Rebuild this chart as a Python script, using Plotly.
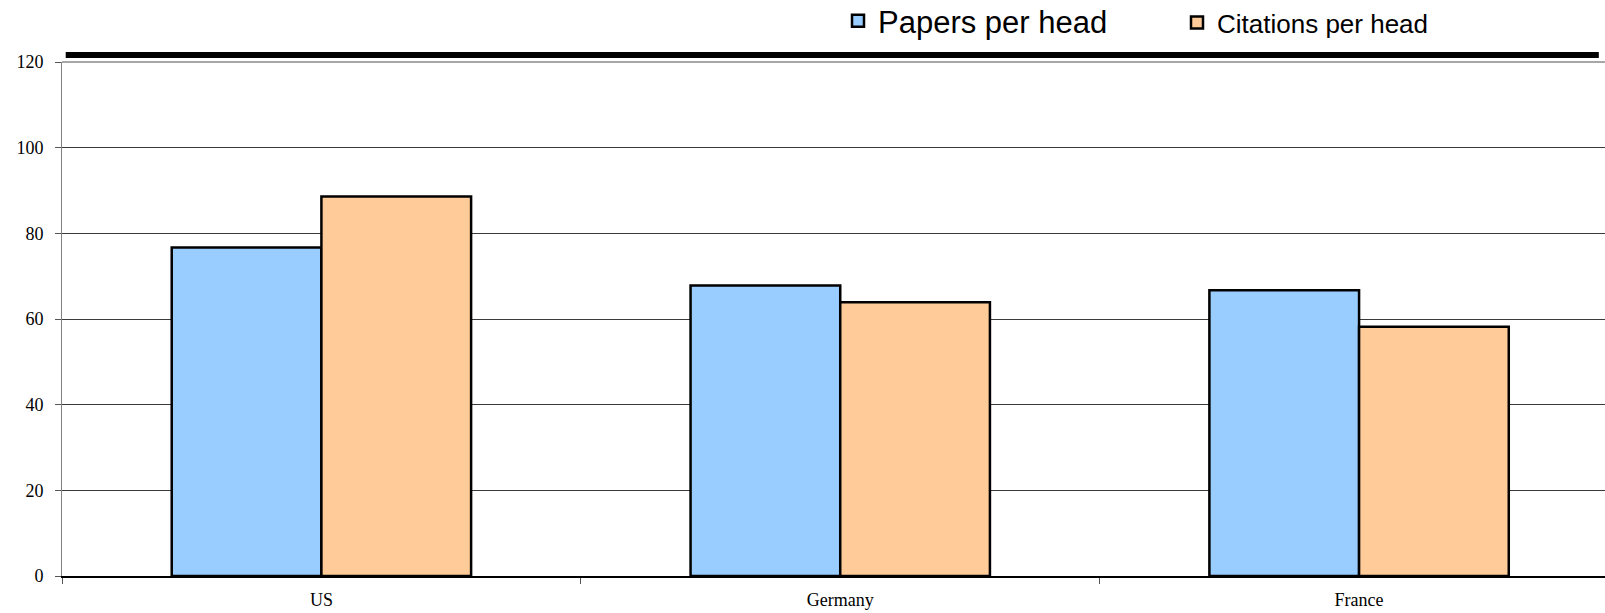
import plotly.graph_objects as go

# Per-head output by country
countries = ["US", "Germany", "France"]
papers_per_head = [76.7, 67.8, 66.7]
citations_per_head = [88.6, 63.9, 58.2]
y_ticks = [0, 20, 40, 60, 80, 100, 120]

W, H = 1605, 613
ML, MR, MT, MB = 62, 0, 62, 37
PLOT_H = H - MT - MB

fig = go.Figure()
fig.add_trace(go.Bar(
    x=countries, y=papers_per_head, name="Papers per head",
    marker=dict(color="#99CCFF", line=dict(color="#000000", width=2.5)),
    legend="legend",
))
fig.add_trace(go.Bar(
    x=countries, y=citations_per_head, name="Citations per head",
    marker=dict(color="#FFCC99", line=dict(color="#000000", width=2.5)),
    legend="legend2",
))

serif = "Liberation Serif, Times New Roman, serif"
sans = "Liberation Sans, Arial, sans-serif"

fig.update_layout(
    width=W, height=H,
    showlegend=True,
    margin=dict(l=ML, r=MR, t=MT, b=MB, pad=0, autoexpand=False),
    paper_bgcolor="#FFFFFF", plot_bgcolor="#FFFFFF",
    barmode="group", bargap=0.423, bargroupgap=0,
    legend=dict(
        xref="container", yref="paper",
        x=838 / W, y=1 + (MT + 6) / PLOT_H, xanchor="left", yanchor="top",
        font=dict(family=sans, size=31, color="#000000"),
        bgcolor="rgba(0,0,0,0)", borderwidth=0,
    ),
    legend2=dict(
        xref="container", yref="paper",
        x=1177 / W, y=1 + (MT + 1) / PLOT_H, xanchor="left", yanchor="top",
        font=dict(family=sans, size=26, color="#000000"),
        bgcolor="rgba(0,0,0,0)", borderwidth=0,
    ),
    xaxis=dict(
        type="category", range=[-0.5, 2.474],
        showline=True, linecolor="#000000", linewidth=1.5,
        ticks="outside", tickson="boundaries", ticklen=6, tickcolor="#555555",
        showgrid=False, zeroline=False,
        tickfont=dict(family=serif, size=18, color="#000000"),
        ticklabelstandoff=7,
    ),
    yaxis=dict(
        range=[0, 120], tickvals=y_ticks,
        showline=True, linecolor="#808080", linewidth=1,
        ticks="outside", ticklen=6, tickcolor="#555555",
        showgrid=True, gridcolor="#3A3A3A", gridwidth=1,
        zeroline=False,
        tickfont=dict(family=serif, size=18, color="#000000"),
        ticklabelstandoff=8,
    ),
    shapes=[
        # light rule along the top of the plot area
        dict(type="line", xref="paper", yref="paper", x0=0, x1=1, y0=1, y1=1,
             line=dict(color="#8A8A8A", width=1.5), layer="above"),
        # heavy bar above the chart
        dict(type="line", xref="paper", yref="paper",
             x0=0.0024, x1=0.996, y0=1.0136, y1=1.0136,
             line=dict(color="#000000", width=6), layer="above"),
    ],
)

fig.write_html("out.html")
